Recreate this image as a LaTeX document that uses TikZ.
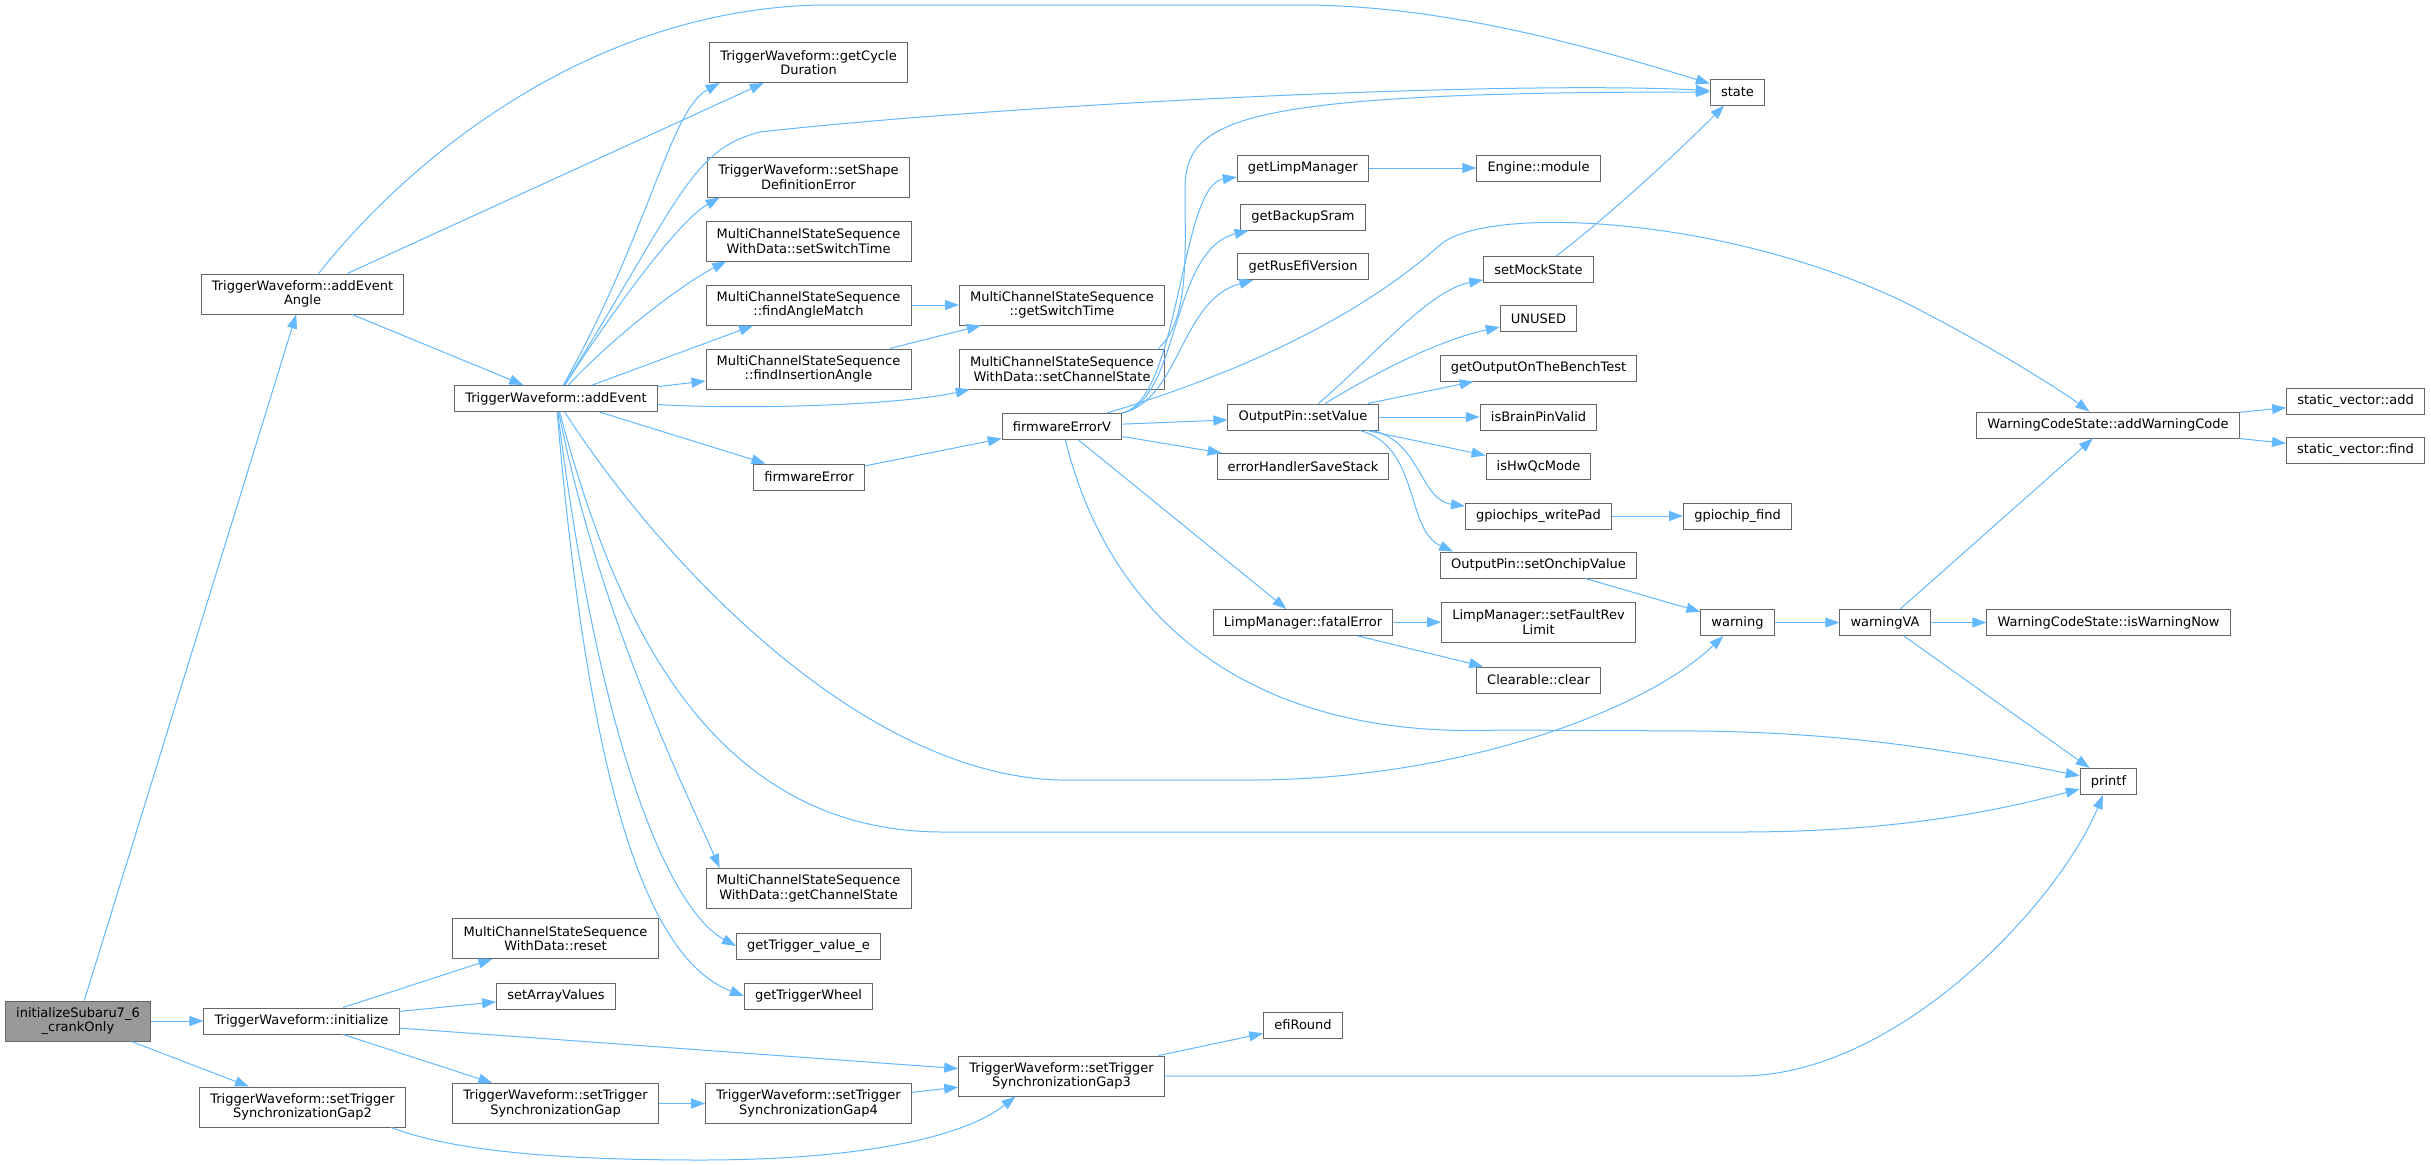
\documentclass[tikz,border=0pt]{standalone}
\usepackage{fontspec}
\setmainfont{DejaVu Sans}
\usepackage{xcolor}
\usetikzlibrary{arrows.meta}
\definecolor{callblue}{HTML}{63B8FF}
\definecolor{boxgray}{HTML}{666666}
\definecolor{rootgray}{HTML}{999999}

\begin{document}
\begin{tikzpicture}[x=0.75pt, y=-0.75pt, font=\fontsize{9.75pt}{11pt}\selectfont,
    fn/.style={draw=boxgray, fill=white, line width=0.75pt, align=center,
      inner xsep=8pt, inner ysep=2pt, minimum height=19.5pt},
    two/.style={minimum height=30pt},
    root/.style={fill=rootgray},
    call/.style={draw=callblue, line width=0.75pt, -{Triangle[length=10.5pt, width=7.5pt]}},
    every edge/.style={call}]
      \useasboundingbox (0,0) rectangle (2431,1164);

      \node[fn, root, two, name=crank] at (78,1021) {initializeSubaru7\_6\\\_crankOnly};
      \node[fn, two, name=addAngle] at (302.5,294) {TriggerWaveform::addEvent\\Angle};
      \node[fn, name=init] at (301.5,1021) {TriggerWaveform::initialize};
      \node[fn, two, name=gapTwo] at (302.5,1107) {TriggerWaveform::setTrigger\\SynchronizationGap2};
      \node[fn, name=addEv] at (556,398.5) {TriggerWaveform::addEvent};
      \node[fn, two, name=reset] at (555.5,938.5) {MultiChannelStateSequence\\WithData::reset};
      \node[fn, name=arrVal] at (556,996) {setArrayValues};
      \node[fn, two, name=gapOne] at (555.5,1103.5) {TriggerWaveform::setTrigger\\SynchronizationGap};
      \node[fn, two, name=cycle] at (808.5,62.5) {TriggerWaveform::getCycle\\Duration};
      \node[fn, two, name=shapeErr] at (808.5,177) {TriggerWaveform::setShape\\DefinitionError};
      \node[fn, two, name=setSwitch] at (808.5,241) {MultiChannelStateSequence\\WithData::setSwitchTime};
      \node[fn, two, name=angleMatch] at (808.5,305) {MultiChannelStateSequence\\::findAngleMatch};
      \node[fn, two, name=insAngle] at (808.5,369) {MultiChannelStateSequence\\::findInsertionAngle};
      \node[fn, name=fwErr] at (809,477) {firmwareError};
      \node[fn, two, name=getChan] at (808.5,888.5) {MultiChannelStateSequence\\WithData::getChannelState};
      \node[fn, name=trigVal] at (808.5,946) {getTrigger\_value\_e};
      \node[fn, name=trigWheel] at (808.5,996) {getTriggerWheel};
      \node[fn, two, name=gapFour] at (808.5,1103.5) {TriggerWaveform::setTrigger\\SynchronizationGap4};
      \node[fn, two, name=getSwitch] at (1062,305) {MultiChannelStateSequence\\::getSwitchTime};
      \node[fn, two, name=setChan] at (1062,369) {MultiChannelStateSequence\\WithData::setChannelState};
      \node[fn, name=fwErrV] at (1062,426.5) {firmwareErrorV};
      \node[fn, two, name=gapThree] at (1061.5,1076) {TriggerWaveform::setTrigger\\SynchronizationGap3};
      \node[fn, name=limpMgr] at (1303,168) {getLimpManager};
      \node[fn, name=backup] at (1303,217) {getBackupSram};
      \node[fn, name=version] at (1303,266.5) {getRusEfiVersion};
      \node[fn, name=setVal] at (1303,417) {OutputPin::setValue};
      \node[fn, name=saveStack] at (1303,466.5) {errorHandlerSaveStack};
      \node[fn, name=fatal] at (1303,622.5) {LimpManager::fatalError};
      \node[fn, name=efiRound] at (1303,1025) {efiRound};
      \node[fn, name=module] at (1538.5,168) {Engine::module};
      \node[fn, name=mock] at (1538.5,269.5) {setMockState};
      \node[fn, name=unused] at (1538.5,318.5) {UNUSED};
      \node[fn, name=bench] at (1538.5,368) {getOutputOnTheBenchTest};
      \node[fn, name=brainPin] at (1538.5,417) {isBrainPinValid};
      \node[fn, name=hwQc] at (1538.5,466.5) {isHwQcMode};
      \node[fn, name=writePad] at (1538.5,516) {gpiochips\_writePad};
      \node[fn, name=onchip] at (1538.5,565) {OutputPin::setOnchipValue};
      \node[fn, two, name=revLimit] at (1538.5,622) {LimpManager::setFaultRev\\Limit};
      \node[fn, name=clear] at (1538.5,680) {Clearable::clear};
      \node[fn, name=state] at (1737.5,92) {state};
      \node[fn, name=chipFind] at (1737.5,516) {gpiochip\_find};
      \node[fn, name=warn] at (1737.5,622.5) {warning};
      \node[fn, name=warnVA] at (1885,622.5) {warningVA};
      \node[fn, name=addCode] at (2108,425) {WarningCodeState::addWarningCode};
      \node[fn, name=warnNow] at (2108.5,622.5) {WarningCodeState::isWarningNow};
      \node[fn, name=printf] at (2108.5,781.5) {printf};
      \node[fn, name=vecAdd] at (2355.5,401) {static\_vector::add};
      \node[fn, name=vecFind] at (2355.5,450.5) {static\_vector::find};

      \path
         (crank) edge (addAngle)
         (crank) edge (init)
         (crank) edge (gapTwo)
         (addAngle) edge (cycle)
         (addAngle) edge (addEv)
         (addEv) edge (angleMatch)
         (addEv) edge (insAngle)
         (addEv) edge (fwErr)
         (angleMatch) edge (getSwitch)
         (insAngle) edge (getSwitch)
         (fwErr) edge (fwErrV)
         (fwErrV) edge (setVal)
         (fwErrV) edge (saveStack)
         (fwErrV) edge (fatal)
         (limpMgr) edge (module)
         (setVal) edge (bench)
         (setVal) edge (brainPin)
         (setVal) edge (hwQc)
         (writePad) edge (chipFind)
         (onchip) edge (warn)
         (fatal) edge (revLimit)
         (fatal) edge (clear)
         (warn) edge (warnVA)
         (warnVA) edge (addCode)
         (warnVA) edge (warnNow)
         (warnVA) edge (printf)
         (addCode) edge (vecAdd)
         (addCode) edge (vecFind)
         (init) edge (reset)
         (init) edge (arrVal)
         (init) edge (gapThree)
         (init) edge (gapOne)
         (gapOne) edge (gapFour)
         (gapFour) edge (gapThree)
         (gapThree) edge (efiRound);

      % curved calls
      \draw[call] (addAngle) .. controls (400,170) and (580,10) .. (820,5) -- (1300,5)
         .. controls (1450,5) and (1600,50) .. (state);
      \draw[call] (addEv) .. controls (650,230) and (670,110) .. (cycle.-167);
      \draw[call] (addEv) .. controls (680,200) and (690,150) .. (760,132)
         .. controls (1000,105) and (1500,80) .. (state);
      \draw[call] (addEv) .. controls (620,300) and (680,220) .. (shapeErr.-167);
      \draw[call] (addEv) .. controls (610,340) and (680,285) .. (setSwitch.-166);
      \draw[call] (addEv) .. controls (750,410) and (900,405) .. (setChan);
      \draw[call] (addEv) .. controls (660,560) and (860,775) .. (1060,780) -- (1250,780)
         .. controls (1450,780) and (1640,715) .. (warn);
      \draw[call] (addEv) .. controls (610,600) and (700,830) .. (940,832) -- (1740,832)
         .. controls (1900,832) and (2000,810) .. (printf);
      \draw[call] (addEv) .. controls (600,620) and (690,800) .. (getChan.167);
      \draw[call] (addEv) .. controls (600,750) and (670,910) .. (trigVal.west);
      \draw[call] (addEv) .. controls (590,800) and (650,960) .. (trigWheel.west);
      \draw[call] (setChan.12) .. controls (1190,320) and (1185,250) .. (1185,190)
         .. controls (1185,120) and (1230,92) .. (state);
      \draw[call] (fwErrV) .. controls (1180,400) and (1180,185) .. (limpMgr);
      \draw[call] (fwErrV) .. controls (1180,400) and (1170,250) .. (backup);
      \draw[call] (fwErrV) .. controls (1180,400) and (1180,300) .. (version);
      \draw[call] (fwErrV) .. controls (1300,355) and (1395,285) .. (1440,245)
         .. controls (1485,205) and (1720,215) .. (1900,300)
         .. controls (1990,345) and (2060,390) .. (addCode);
      \draw[call] (fwErrV) .. controls (1110,620) and (1250,740) .. (1500,730) -- (1700,731)
         .. controls (1850,733) and (1950,750) .. (printf);
      \draw[call] (setVal) .. controls (1380,350) and (1430,290) .. (mock);
      \draw[call] (setVal) .. controls (1380,370) and (1440,340) .. (unused);
      \draw[call] (setVal) .. controls (1420,440) and (1420,500) .. (writePad);
      \draw[call] (setVal) .. controls (1420,445) and (1405,530) .. (onchip.171);
      \draw[call] (mock) .. controls (1610,215) and (1680,150) .. (state);
      \draw[call] (gapTwo.-13) .. controls (450,1150) and (550,1160) .. (700,1160)
         .. controls (850,1160) and (960,1140) .. (gapThree.-156);
      \draw[call] (gapThree) -- (1740,1076) .. controls (1900,1076) and (2060,900) .. (printf);
   \end{tikzpicture}
\end{document}
